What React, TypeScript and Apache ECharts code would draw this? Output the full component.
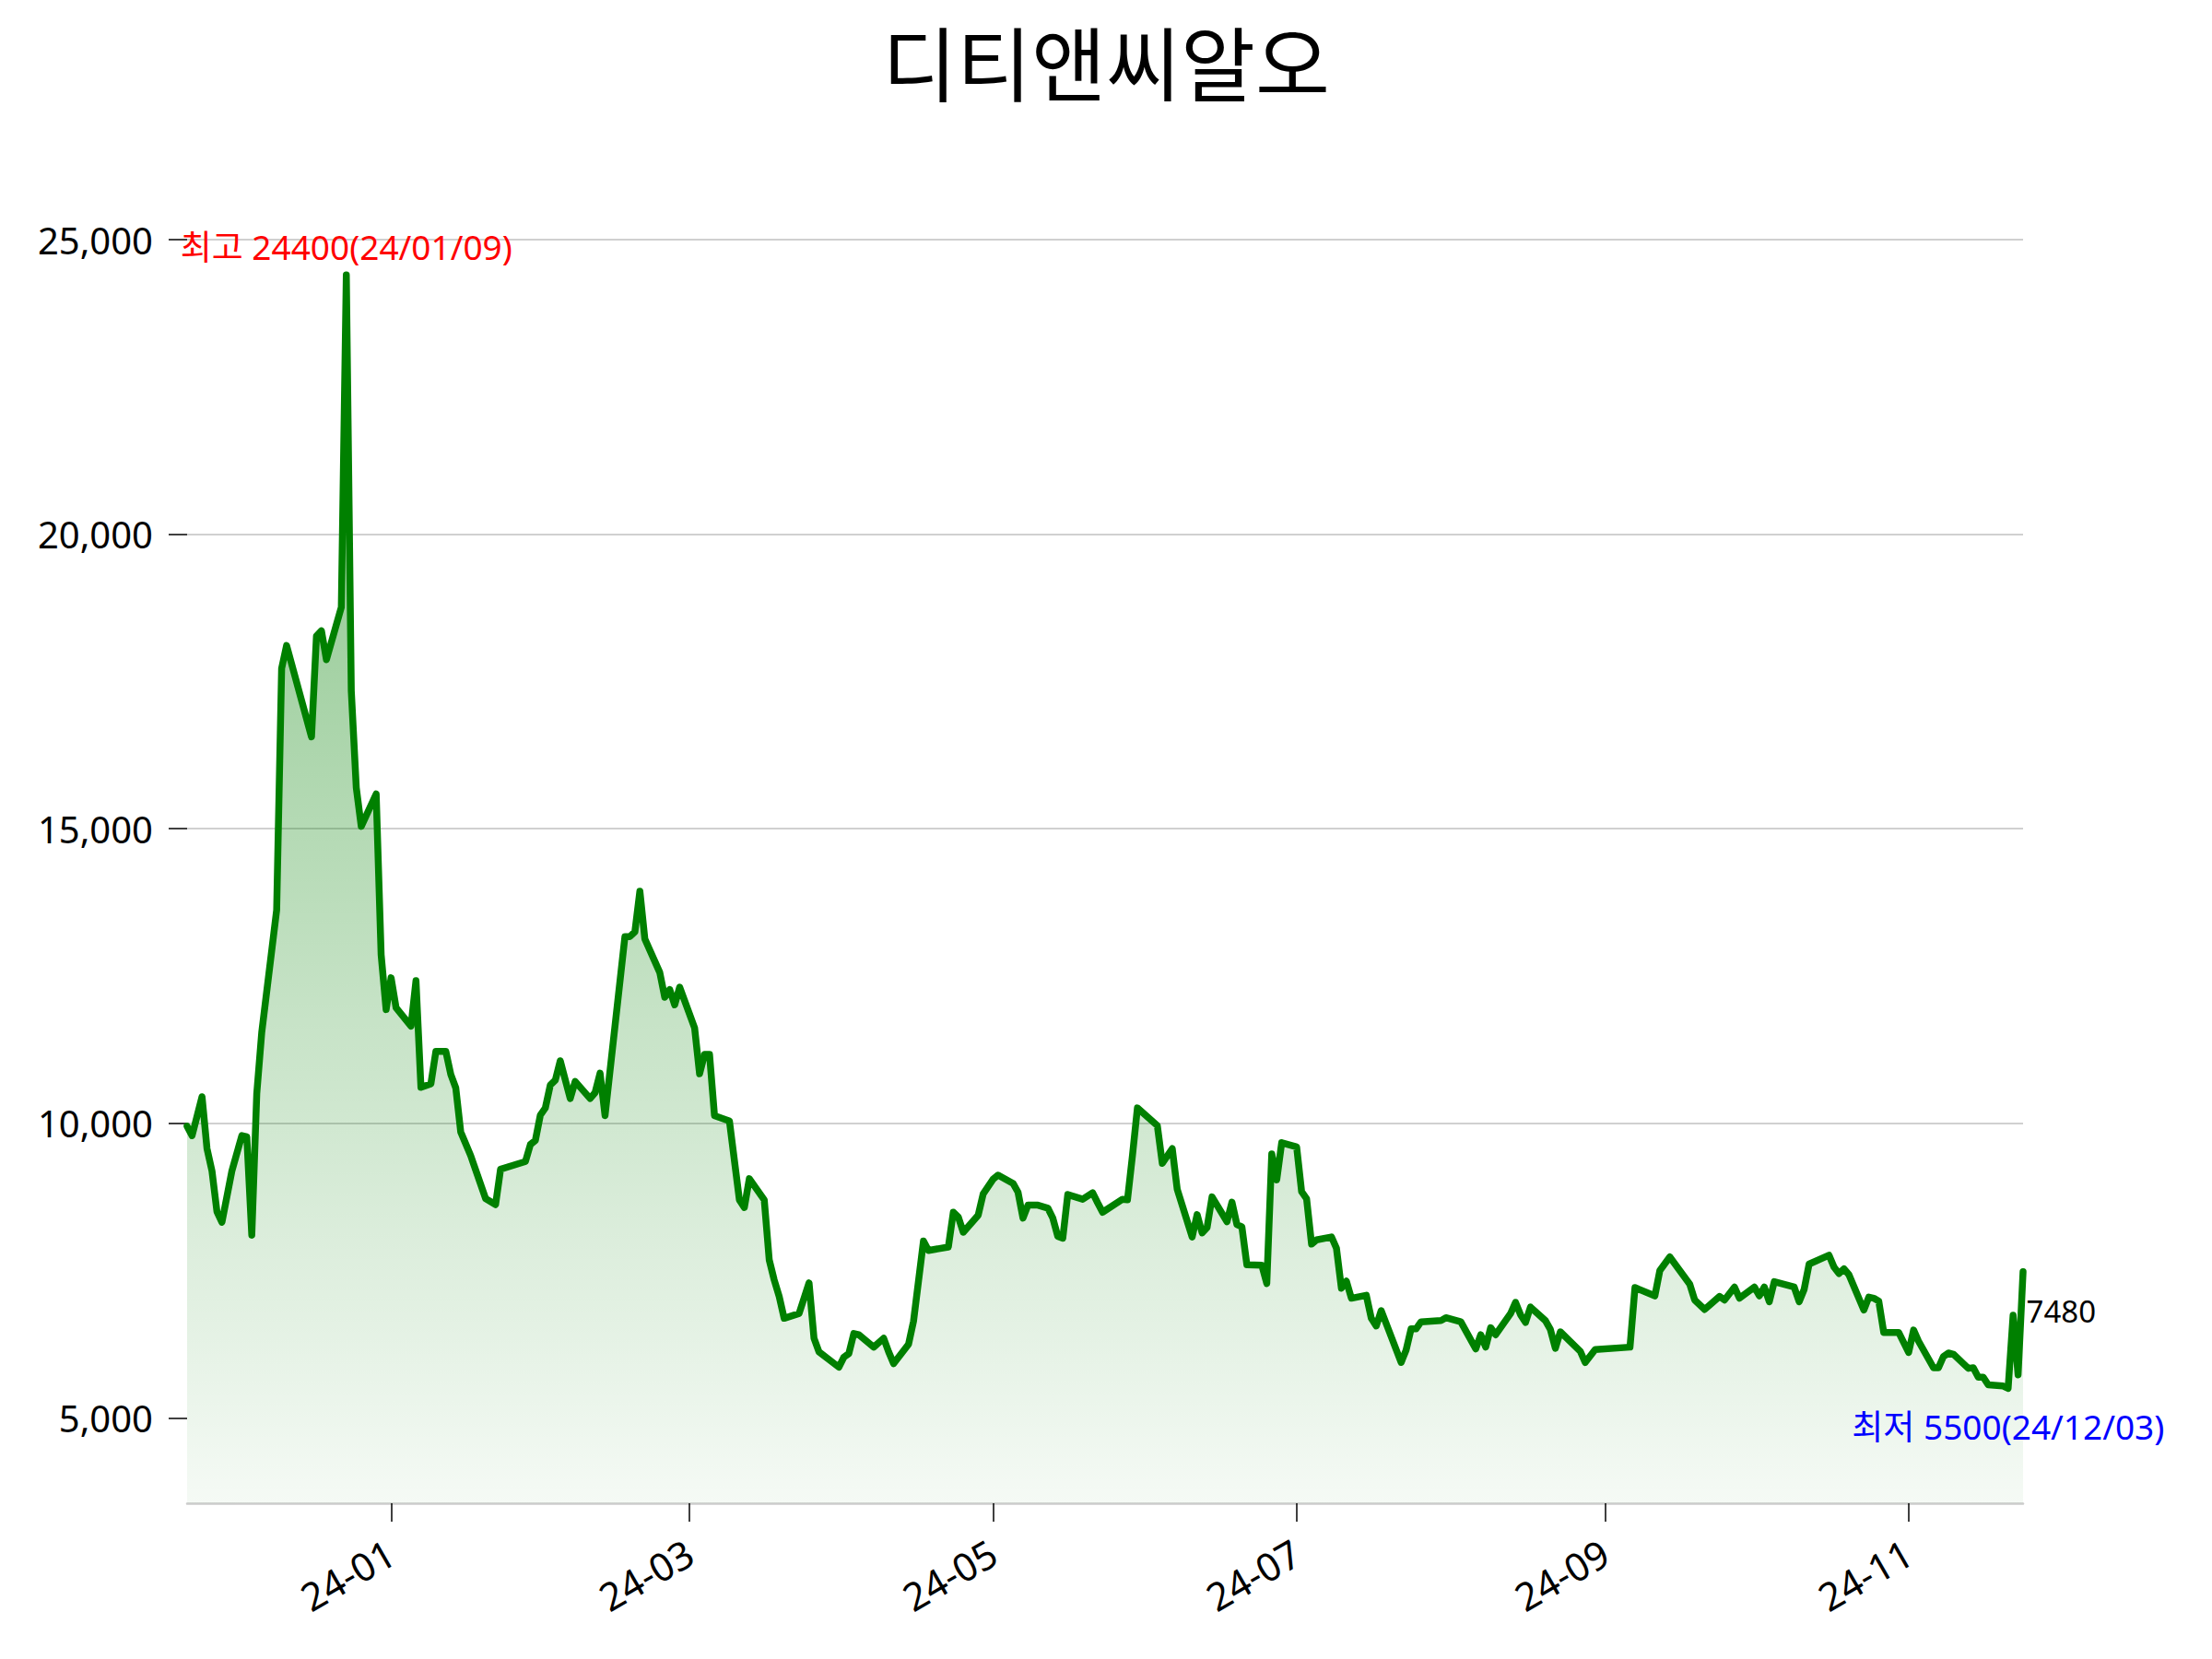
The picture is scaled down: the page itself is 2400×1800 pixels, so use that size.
import React, { useEffect, useRef } from 'react';
import * as echarts from 'echarts';

const chartTitle = '디티앤씨알오';

const dates: string[] = [
  '2023-11-21', '2023-11-22', '2023-11-24', '2023-11-25', '2023-11-26', '2023-11-27', '2023-11-28', '2023-11-30',
  '2023-12-02', '2023-12-03', '2023-12-04', '2023-12-05', '2023-12-06', '2023-12-09', '2023-12-10', '2023-12-11',
  '2023-12-16', '2023-12-17', '2023-12-18', '2023-12-19', '2023-12-22', '2023-12-23', '2023-12-24', '2023-12-25',
  '2023-12-26', '2023-12-29', '2023-12-30', '2023-12-31', '2024-01-01', '2024-01-02', '2024-01-05', '2024-01-06',
  '2024-01-07', '2024-01-09', '2024-01-10', '2024-01-12', '2024-01-13', '2024-01-14', '2024-01-15', '2024-01-17',
  '2024-01-20', '2024-01-22', '2024-01-23', '2024-01-28', '2024-01-29', '2024-01-30', '2024-01-31', '2024-02-01',
  '2024-02-02', '2024-02-03', '2024-02-04', '2024-02-06', '2024-02-07', '2024-02-10', '2024-02-11', '2024-02-12',
  '2024-02-13', '2024-02-17', '2024-02-18', '2024-02-19', '2024-02-20', '2024-02-21', '2024-02-24', '2024-02-25',
  '2024-02-26', '2024-02-27', '2024-02-28', '2024-03-02', '2024-03-03', '2024-03-04', '2024-03-05', '2024-03-06',
  '2024-03-09', '2024-03-11', '2024-03-12', '2024-03-13', '2024-03-16', '2024-03-17', '2024-03-18', '2024-03-19',
  '2024-03-20', '2024-03-23', '2024-03-25', '2024-03-26', '2024-03-27', '2024-03-31', '2024-04-01', '2024-04-02',
  '2024-04-03', '2024-04-04', '2024-04-07', '2024-04-09', '2024-04-10', '2024-04-11', '2024-04-14', '2024-04-15',
  '2024-04-17', '2024-04-18', '2024-04-22', '2024-04-23', '2024-04-24', '2024-04-25', '2024-04-28', '2024-04-29',
  '2024-05-01', '2024-05-02', '2024-05-05', '2024-05-06', '2024-05-07', '2024-05-08', '2024-05-10', '2024-05-12',
  '2024-05-13', '2024-05-14', '2024-05-15', '2024-05-16', '2024-05-19', '2024-05-21', '2024-05-22', '2024-05-23',
  '2024-05-27', '2024-05-28', '2024-05-29', '2024-05-30', '2024-06-03', '2024-06-04', '2024-06-06', '2024-06-07',
  '2024-06-10', '2024-06-11', '2024-06-12', '2024-06-13', '2024-06-14', '2024-06-17', '2024-06-18', '2024-06-19',
  '2024-06-20', '2024-06-21', '2024-06-24', '2024-06-25', '2024-06-26', '2024-06-27', '2024-06-28', '2024-07-01',
  '2024-07-02', '2024-07-03', '2024-07-04', '2024-07-05', '2024-07-08', '2024-07-09', '2024-07-10', '2024-07-11',
  '2024-07-12', '2024-07-15', '2024-07-16', '2024-07-17', '2024-07-18', '2024-07-22', '2024-07-23', '2024-07-24',
  '2024-07-25', '2024-07-26', '2024-07-30', '2024-07-31', '2024-08-03', '2024-08-06', '2024-08-07', '2024-08-08',
  '2024-08-09', '2024-08-10', '2024-08-13', '2024-08-14', '2024-08-15', '2024-08-16', '2024-08-17', '2024-08-20',
  '2024-08-21', '2024-08-22', '2024-08-23', '2024-08-27', '2024-08-28', '2024-08-30', '2024-09-06', '2024-09-07',
  '2024-09-11', '2024-09-12', '2024-09-14', '2024-09-18', '2024-09-19', '2024-09-21', '2024-09-24', '2024-09-25',
  '2024-09-27', '2024-09-28', '2024-10-01', '2024-10-02', '2024-10-03', '2024-10-04', '2024-10-05', '2024-10-09',
  '2024-10-10', '2024-10-11', '2024-10-12', '2024-10-16', '2024-10-17', '2024-10-18', '2024-10-19', '2024-10-20',
  '2024-10-23', '2024-10-24', '2024-10-25', '2024-10-26', '2024-10-27', '2024-10-30', '2024-11-01', '2024-11-02',
  '2024-11-03', '2024-11-06', '2024-11-07', '2024-11-08', '2024-11-09', '2024-11-10', '2024-11-13', '2024-11-14',
  '2024-11-15', '2024-11-16', '2024-11-17', '2024-11-20', '2024-11-21', '2024-11-22', '2024-11-23', '2024-11-24',
];

const closes: number[] = [
  9950, 9790, 10450, 9570, 9190, 8500, 8320, 9190,
  9790, 9770, 8100, 10500, 11540, 13620, 17720, 18110,
  16560, 18270, 18360, 17870, 18760, 24400, 17340, 15700,
  15040, 15590, 12860, 11930, 12470, 11960, 11650, 12420,
  10610, 10670, 11220, 11220, 10830, 10600, 9850, 9450,
  8720, 8620, 9220, 9350, 9640, 9710, 10140, 10260,
  10650, 10730, 11060, 10420, 10710, 10420, 10520, 10850,
  10130, 13170, 13170, 13250, 13940, 13130, 12560, 12140,
  12270, 12010, 12310, 11620, 10840, 11170, 11170, 10130,
  10040, 8700, 8570, 9060, 8700, 7680, 7340, 7060,
  6690, 6770, 7290, 6350, 6120, 5860, 6030, 6090,
  6430, 6410, 6200, 6350, 6120, 5920, 6250, 6640,
  8000, 7840, 7900, 8490, 8410, 8150, 8440, 8800,
  9050, 9120, 8980, 8830, 8390, 8610, 8610, 8560,
  8390, 8080, 8050, 8790, 8710, 8820, 8650, 8490,
  8710, 8700, 9450, 10260, 9960, 9320, 9570, 8880,
  8070, 8450, 8140, 8230, 8750, 8330, 8660, 8280,
  8240, 7600, 7590, 7280, 9480, 9040, 9670, 9600,
  8840, 8720, 7950, 8020, 8070, 7880, 7200, 7320,
  7030, 7080, 6690, 6560, 6820, 5940, 6150, 6510,
  6510, 6630, 6650, 6700, 6630, 6170, 6410, 6200,
  6530, 6410, 6770, 6960, 6750, 6620, 6880, 6650,
  6500, 6180, 6460, 6130, 5940, 6160, 6200, 7210,
  7070, 7500, 7730, 7270, 7000, 6840, 7060, 7000,
  7220, 7030, 7220, 7070, 7220, 6970, 7310, 7220,
  6970, 7180, 7610, 7760, 7560, 7450, 7530, 7430,
  6830, 7050, 7030, 6980, 6450, 6450, 6110, 6490,
  6300, 5850, 5850, 6040, 6100, 6080, 5840, 5850,
  5690, 5690, 5560, 5540, 5500, 6740, 5730, 7480,
];

const xTickDates: string[] = ['2024-01-01', '2024-03-01', '2024-05-01', '2024-07-01', '2024-09-01', '2024-11-01'];
const yTicks: number[] = [5000, 10000, 15000, 20000, 25000];
const yMin = 3550;
const yMax = 25000;

const highPrefix = '최고';
const highDateText = '24/01/09';
const lowPrefix = '최저';
const lowDateText = '24/12/03';

const FONT = "'Noto Sans', 'Noto Sans CJK KR', sans-serif";

export default function App() {
  const ref = useRef<HTMLDivElement>(null);

  useEffect(() => {
    document.body.style.margin = '0';
    const chart = echarts.init(ref.current as HTMLDivElement, null, { renderer: 'svg' });
    const ts = (s: string) => +echarts.number.parseDate(s);
    const seriesData = dates.map((d, i) => [ts(d), closes[i]]);
    const xTickVals = xTickDates.map(ts);
    const lastIdx = dates.length - 1;
    const fmtMonth = (v: number) => {
      const d = new Date(v);
      return String(d.getFullYear()).slice(2) + '-' + String(d.getMonth() + 1).padStart(2, '0');
    };

    chart.setOption({
      animation: false,
      backgroundColor: '#ffffff',
      title: {
        text: chartTitle,
        left: 'center',
        top: 9,
        textStyle: {
          fontSize: 88,
          lineHeight: 100,
          fontWeight: 'normal',
          color: '#000',
          fontFamily: "'Noto Sans CJK KR', sans-serif",
        },
      },
      grid: { left: 203, right: 205, top: 260, bottom: 169 },
      xAxis: {
        type: 'value',
        min: ts(dates[0]),
        max: ts(dates[lastIdx]),
        axisLine: { show: true, onZero: false, lineStyle: { color: '#cccccc', width: 2.5 } },
        axisTick: { show: true, customValues: xTickVals, length: 20, lineStyle: { color: '#000', width: 1.5 } },
        axisLabel: {
          customValues: xTickVals,
          rotate: 30,
          margin: 50,
          fontSize: 42,
          color: '#000',
          fontFamily: FONT,
          formatter: (v: number) => fmtMonth(v),
        },
        splitLine: { show: false },
      },
      yAxis: {
        type: 'value',
        min: yMin,
        max: yMax,
        axisLine: { show: false },
        axisTick: { show: true, customValues: yTicks, length: 20, lineStyle: { color: '#000', width: 1.5 } },
        axisLabel: {
          customValues: yTicks,
          fontSize: 40,
          color: '#000',
          margin: 37,
          fontFamily: FONT,
          formatter: (v: number) => echarts.format.addCommas(v),
        },
        splitLine: { show: true, showMinLine: false, lineStyle: { color: '#d0d0d0', width: 2 } },
      },
      series: [
        {
          type: 'line',
          data: seriesData,
          showSymbol: false,
          symbol: 'none',
          clip: false,
          silent: true,
          lineStyle: { color: '#008000', width: 7.5, join: 'round', cap: 'round' },
          itemStyle: { color: '#008000' },
          areaStyle: {
            origin: 'start',
            opacity: 1,
            color: new echarts.graphic.LinearGradient(0, 0, 0, 1, [
              { offset: 0, color: 'rgba(0,128,0,0.5)' },
              { offset: 1, color: 'rgba(0,128,0,0.04)' },
            ]),
          },
          markPoint: {
            symbol: 'circle',
            symbolSize: 1,
            itemStyle: { color: 'rgba(0,0,0,0)' },
            silent: true,
            data: [
              {
                type: 'max',
                label: {
                  show: true,
                  position: 'top',
                  distance: 12,
                  color: '#ff0000',
                  fontSize: 37,
                  fontFamily: FONT,
                  formatter: (p: any) => `${highPrefix} ${p.value}(${highDateText})`,
                },
              },
              {
                type: 'min',
                label: {
                  show: true,
                  position: 'bottom',
                  distance: 22,
                  color: '#0000ff',
                  fontSize: 37,
                  fontFamily: FONT,
                  formatter: (p: any) => `${lowPrefix} ${p.value}(${lowDateText})`,
                },
              },
              {
                coord: [ts(dates[lastIdx]), closes[lastIdx]],
                value: closes[lastIdx],
                label: {
                  show: true,
                  position: 'right',
                  distance: 3,
                  offset: [0, 43],
                  color: '#000',
                  fontSize: 33,
                  fontFamily: FONT,
                  formatter: (p: any) => String(p.value),
                },
              },
            ],
          },
        },
      ],
    });

    return () => chart.dispose();
  }, []);

  return <div ref={ref} style={{ position: 'absolute', left: 0, top: 0, width: 2400, height: 1800 }} />;
}
